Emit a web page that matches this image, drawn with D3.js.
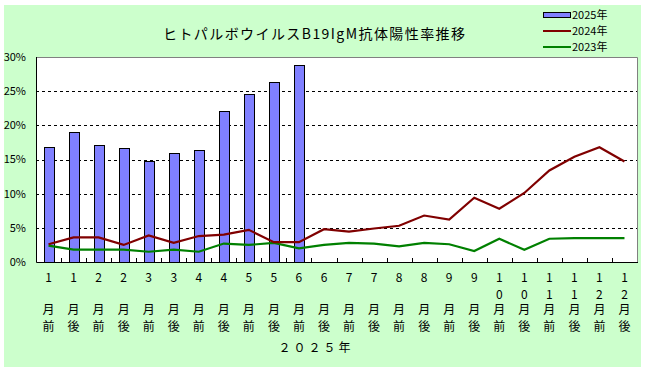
<!DOCTYPE html>
<html><head><meta charset="utf-8">
<script src="https://cdn.jsdelivr.net/npm/d3@7"></script>
<style>body{margin:0;background:#fff}svg{display:block}text{font-family:"Noto Sans CJK JP","DejaVu Sans",sans-serif;fill:#000}</style>
</head><body><svg id="c" width="645" height="372"></svg>
<script>
const categories = ["1月前","1月後","2月前","2月後","3月前","3月後","4月前","4月後","5月前","5月後","6月前","6月後",
  "7月前","7月後","8月前","8月後","9月前","9月後","10月前","10月後","11月前","11月後","12月前","12月後"];
const values2025 = [16.8,19.0,17.1,16.7,14.8,15.9,16.4,22.1,24.6,26.3,28.9];
const values2024 = [2.6,3.6,3.6,2.5,3.9,2.8,3.8,4.0,4.7,2.9,2.9,4.8,4.45,4.9,5.3,6.8,6.2,9.4,7.8,10.1,13.4,15.4,16.8,14.7];
const values2023 = [2.4,1.8,1.8,1.8,1.5,1.8,1.5,2.7,2.5,2.8,2.0,2.5,2.8,2.7,2.3,2.8,2.6,1.6,3.4,1.8,3.4,3.5,3.5,3.5];
const yTicks = [0,5,10,15,20,25,30];
const title = "ヒトパルボウイルスB19IgM抗体陽性率推移";
const xTitle = "２０２５年";
const legendItems = [{name:"2025年",type:"bar",color:"#8080ff"},{name:"2024年",type:"line",color:"#800000"},{name:"2023年",type:"line",color:"#008000"}];

const svg = d3.select("#c");
const L=36, R=637, T=57, B=262;
svg.append("rect").attr("x",4).attr("y",5).attr("width",637).attr("height",362).attr("fill","#ccffcc");
const x = d3.scaleBand().domain(categories).range([L,R]);
const y = d3.scaleLinear().domain([0,30]).range([B,T]);
svg.append("rect").attr("x",L).attr("y",T).attr("width",R-L).attr("height",B-T).attr("fill","#fff");

// gridlines
svg.append("g").selectAll("line").data(yTicks.filter(d=>d>0&&d<30)).join("line")
  .attr("x1",L).attr("x2",R).attr("y1",d=>Math.round(y(d))+0.5).attr("y2",d=>Math.round(y(d))+0.5)
  .attr("stroke","#000").attr("stroke-dasharray","3,3");
// frame top/right
svg.append("path").attr("d",`M${L},${T+0.5}H${R+0.5}V${B}`).attr("fill","none").attr("stroke","#808080");

// bars
const bw = 10;
svg.append("g").selectAll("rect").data(values2025).join("rect")
  .attr("x",(d,i)=>Math.round(x(categories[i])+x.bandwidth()/2-bw/2)+0.5)
  .attr("y",d=>Math.round(y(d))+0.5).attr("width",bw).attr("height",d=>B-Math.round(y(d)))
  .attr("fill","#8080ff").attr("stroke","#000");

const line = d3.line().x((d,i)=>x(categories[i])+x.bandwidth()/2).y(d=>y(d));
svg.append("path").datum(values2023).attr("d",line).attr("fill","none").attr("stroke","#008000").attr("stroke-width",2.2);
svg.append("path").datum(values2024).attr("d",line).attr("fill","none").attr("stroke","#800000").attr("stroke-width",2.2);

// axes lines
svg.append("path").attr("d",`M${L+0.5},${T}V${B+0.5}H${R+1}`).attr("fill","none").attr("stroke","#000");
// x ticks (inside, at category boundaries)
svg.append("g").selectAll("line").data(categories.slice(1)).join("line")
  .attr("x1",d=>Math.round(x(d))+0.5).attr("x2",d=>Math.round(x(d))+0.5).attr("y1",B).attr("y2",B-4).attr("stroke","#000");

// y labels
svg.append("g").selectAll("text").data(yTicks).join("text")
  .attr("x",26).attr("y",d=>y(d)).attr("dy","0.35em").attr("text-anchor","end").attr("font-size",11)
  .text(d=>d+"%");

// x labels vertical stacks
const xl = svg.append("g").selectAll("g").data(categories).join("g")
  .attr("transform",d=>`translate(${x(d)+x.bandwidth()/2},0)`);
xl.each(function(d){
  const g=d3.select(this);
  const num=d.match(/^\d+/)[0];
  const rest=d.slice(num.length);
  num.split("").forEach((c,k)=>g.append("text").attr("y",278+k*16.5).attr("dy","0.35em").attr("text-anchor","middle").attr("font-size",12).text(c));
  g.append("text").attr("y",310).attr("dy","0.35em").attr("text-anchor","middle").attr("font-size",12).text(rest[0]);
  g.append("text").attr("y",327).attr("dy","0.35em").attr("text-anchor","middle").attr("font-size",12).text(rest[1]);
});
svg.append("text").attr("x",316).attr("y",348).attr("dy","0.35em").attr("text-anchor","middle").attr("font-size",12)
  .attr("letter-spacing","3px").text(xTitle);

// title
svg.append("text").attr("x",163).attr("y",34).attr("dy","0.35em").attr("font-size",14)
  .attr("textLength",302).attr("lengthAdjust","spacing").text(title);

// legend
const lg = svg.append("g").selectAll("g").data(legendItems).join("g")
  .attr("transform",(d,i)=>`translate(543,${15+i*16})`);
lg.each(function(d){
  const g=d3.select(this);
  if(d.type==="bar") g.append("rect").attr("x",0.5).attr("y",-2.5).attr("width",27).attr("height",5).attr("fill",d.color).attr("stroke","#000");
  else g.append("line").attr("x1",0).attr("x2",28).attr("y1",0).attr("y2",0).attr("stroke",d.color).attr("stroke-width",2);
  g.append("text").attr("x",29).attr("y",0).attr("dy","0.35em").attr("font-size",11).text(d.name);
});
</script></body></html>
